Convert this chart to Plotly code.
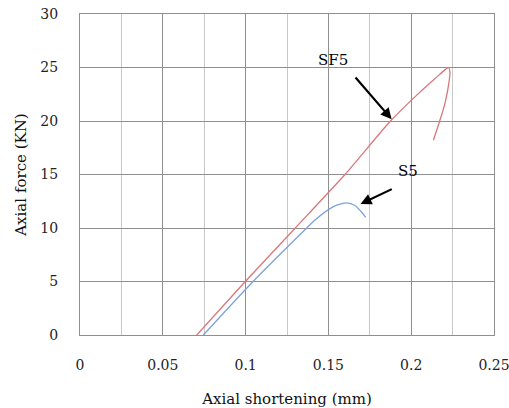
import plotly.graph_objects as go

# SF5 (red) curve
sf5_x = [0.0705, 0.0998, 0.1300, 0.1600, 0.1875, 0.2053, 0.2154, 0.2205, 0.2225, 0.2234, 0.2225, 0.2204, 0.2170, 0.2134]
sf5_y = [0.0, 5.0, 10.0, 15.0, 20.0, 22.7, 24.1, 24.8, 25.0, 24.5, 23.3, 21.65, 19.9, 18.2]

# S5 (blue) curve
s5_x = [0.0745, 0.1045, 0.1369, 0.1419, 0.1530, 0.1610, 0.1660, 0.1705, 0.1725]
s5_y = [0.0, 5.0, 10.0, 10.75, 12.0, 12.35, 12.1, 11.4, 11.0]

x_ticks = [0, 0.05, 0.1, 0.15, 0.2, 0.25]
x_tick_labels = ["0", "0.05", "0.1", "0.15", "0.2", "0.25"]
y_ticks = [0, 5, 10, 15, 20, 25, 30]

FONT = "DejaVu Serif"

fig = go.Figure()
fig.add_trace(go.Scatter(x=sf5_x, y=sf5_y, mode="lines", line=dict(color="#d9777b", width=1.3, shape="spline", smoothing=0.6), name="SF5"))
fig.add_trace(go.Scatter(x=s5_x, y=s5_y, mode="lines", line=dict(color="#7ba3d9", width=1.3, shape="spline", smoothing=0.6), name="S5"))

# labels
fig.add_annotation(x=0.153, y=25.7, text="SF5", showarrow=False, font=dict(family=FONT, size=15, color="black"))
fig.add_annotation(x=0.1978, y=15.36, text="S5", showarrow=False, font=dict(family=FONT, size=15, color="black"))
# arrows
fig.add_annotation(x=0.1882, y=20.16, ax=0.1656, ay=24.2, axref="x", ayref="y", text="", showarrow=True,
                   arrowhead=2, arrowwidth=2.2, arrowsize=1, arrowcolor="black")
fig.add_annotation(x=0.1694, y=12.24, ax=0.1892, ay=13.7, axref="x", ayref="y", text="", showarrow=True,
                   arrowhead=2, arrowwidth=2.2, arrowsize=1, arrowcolor="black")

fig.update_layout(
    width=509, height=408,
    margin=dict(l=80, r=15, t=14, b=73, autoexpand=False),
    paper_bgcolor="white", plot_bgcolor="white",
    showlegend=False,
    font=dict(family=FONT, size=14, color="#222"),
)
fig.update_xaxes(
    range=[0, 0.25], tickvals=x_ticks, ticktext=x_tick_labels,
    showgrid=True, gridcolor="#8f8f8f", gridwidth=1,
    minor=dict(dtick=0.025, tick0=0, showgrid=True, gridcolor="#c8c8c8", gridwidth=1),
    showline=True, linecolor="#8f8f8f", linewidth=1, mirror=True,
    zeroline=False, ticks="", ticklabelstandoff=17, ticklabeloverflow="allow", automargin=False,
    tickfont=dict(family=FONT, size=14, color="#222"),
    title=dict(text="Axial shortening (mm)", font=dict(family=FONT, size=15, color="#111"), standoff=22),
)
fig.update_yaxes(
    range=[0, 30], tickvals=y_ticks,
    showgrid=True, gridcolor="#8f8f8f", gridwidth=1,
    showline=True, linecolor="#8f8f8f", linewidth=1, mirror=True,
    zeroline=False, ticks="", ticklabelstandoff=18, ticklabeloverflow="allow", automargin=False,
    tickfont=dict(family=FONT, size=14, color="#222"),
    title=dict(text="Axial force (KN)", font=dict(family=FONT, size=15, color="#111"), standoff=10),
)

fig.write_html("out.html")
